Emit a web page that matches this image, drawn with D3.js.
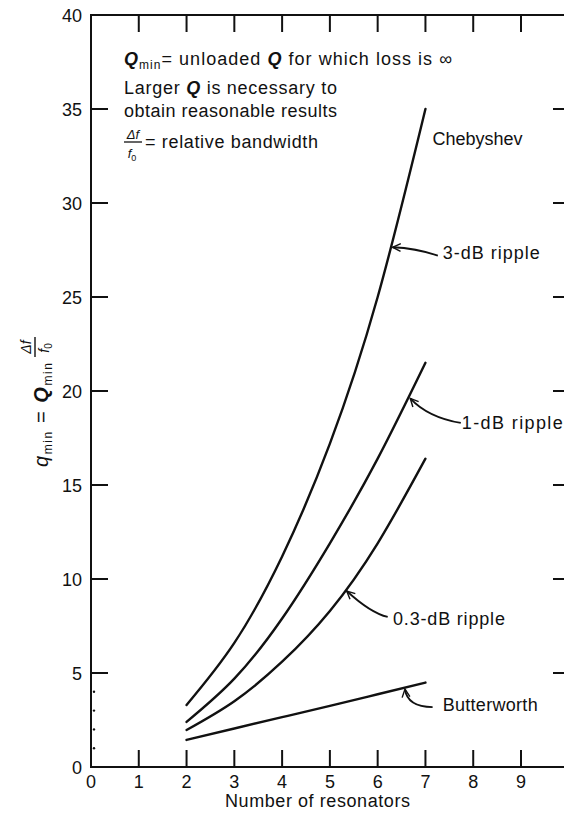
<!DOCTYPE html>
<html>
<head>
<meta charset="utf-8">
<script src="https://cdn.jsdelivr.net/npm/d3@7"></script>
<style>
  html, body { margin: 0; padding: 0; background: #fff; }
  svg { display: block; font-family: "Liberation Sans", Arial, Helvetica, sans-serif; }
</style>
</head>
<body>
<svg id="chart" width="564" height="817"></svg>
<script>
// ---------------- data ----------------
const resonators = [2, 3, 4, 5, 6, 7];
const ripple3dB   = [3.3, 6.6, 11.2, 17.2, 25.0, 35.0];
const ripple1dB   = [2.4, 4.7, 7.9, 11.9, 16.4, 21.5];
const ripple03dB  = [1.97, 3.5, 5.6, 8.3, 11.9, 16.4];
const butterworth = [1.44, 2.05, 2.65, 3.25, 3.87, 4.49];

const xTicks = [0, 1, 2, 3, 4, 5, 6, 7, 8, 9];
const yTicks = [0, 5, 10, 15, 20, 25, 30, 35, 40];
const yMinorTicks = [1, 2, 3, 4];
const xLabel = "Number of resonators";
const groupLabel = "Chebyshev";

// curve labels with arrow (positions in data units)
const seriesList = [
  { values: ripple3dB,   label: "3-dB ripple",   lx: 7.36, ly: 27.0, w: 97,  tip: 6.27, tail: [7.26, 27.2], ctrl: [6.8, 27.6] },
  { values: ripple1dB,   label: "1-dB ripple",   lx: 7.76, ly: 18.0, w: 101, tip: 6.64, tail: [7.74, 18.3], ctrl: [7.05, 18.6] },
  { values: ripple03dB,  label: "0.3-dB ripple", lx: 6.32, ly: 7.55, w: 112, tip: 5.31, tail: [6.21, 7.98], ctrl: [5.85, 8.2] },
  { values: butterworth, label: "Butterworth",   lx: 7.36, ly: 2.98, w: 95,  tip: 6.53, tail: [7.15, 3.19], ctrl: [6.62, 3.2] }
];

// ---------------- scales ----------------
const svg = d3.select("#chart");
const x = d3.scaleLinear().domain([0, 9]).range([91, 521]);
const y = d3.scaleLinear().domain([0, 40]).range([767, 15]);
const xRight = 564;
const ink = "#111";

// ---------------- frame ----------------
const frame = svg.append("g").attr("stroke", ink).attr("stroke-width", 2).attr("fill", "none");
frame.append("line").attr("x1", x(0)).attr("x2", x(0)).attr("y1", y(0) + 1).attr("y2", y(40) - 1);
frame.append("line").attr("x1", x(0) - 1).attr("x2", xRight).attr("y1", y(40)).attr("y2", y(40));
frame.append("line").attr("x1", x(0) - 1).attr("x2", xRight).attr("y1", y(0)).attr("y2", y(0));

const tickLen = 17;
xTicks.filter(d => d > 0).forEach(d => {
  frame.append("line").attr("x1", x(d)).attr("x2", x(d)).attr("y1", y(0)).attr("y2", y(0) - tickLen);
  frame.append("line").attr("x1", x(d)).attr("x2", x(d)).attr("y1", y(40)).attr("y2", y(40) + tickLen);
});
yTicks.filter(d => d > 0 && d < 40).forEach(d => {
  frame.append("line").attr("x1", x(0)).attr("x2", x(0) + tickLen).attr("y1", y(d)).attr("y2", y(d));
  frame.append("line").attr("x1", xRight - 11).attr("x2", xRight).attr("y1", y(d)).attr("y2", y(d));
});
yMinorTicks.forEach(d => {
  svg.append("circle").attr("cx", x(0) + 3).attr("cy", y(d)).attr("r", 1.2).attr("fill", ink);
});

// tick labels
const tickFont = 18;
svg.append("g").selectAll("text").data(xTicks).join("text")
  .attr("x", d => x(d)).attr("y", y(0) + 21)
  .attr("text-anchor", "middle").attr("font-size", tickFont).attr("fill", ink)
  .text(d => d);
svg.append("g").selectAll("text").data(yTicks).join("text")
  .attr("x", x(0) - 9)
  .attr("y", d => y(d) + 6.5)
  .attr("text-anchor", "end").attr("font-size", tickFont).attr("fill", ink)
  .text(d => d);

// x axis title
svg.append("text").attr("x", 225).attr("y", 807)
  .attr("font-size", 18).attr("fill", ink)
  .attr("textLength", 185).attr("lengthAdjust", "spacing").text(xLabel);

// y axis title (rotated)
const yt = svg.append("g").attr("transform", "translate(48,467) rotate(-90)");
const ytText = yt.append("text").attr("font-size", 20).attr("fill", ink)
  .attr("textLength", 104).attr("lengthAdjust", "spacing");
ytText.append("tspan").attr("font-style", "italic").text("q");
ytText.append("tspan").attr("font-size", 12).attr("dy", 4).text("min");
ytText.append("tspan").attr("dy", -4).text(" = ");
ytText.append("tspan").attr("font-style", "italic").attr("font-weight", "bold").text("Q");
ytText.append("tspan").attr("font-size", 12).attr("dy", 4).text("min");
const fx = 120;
yt.append("text").attr("x", fx).attr("y", -17).attr("text-anchor", "middle")
  .attr("font-size", 14).attr("font-style", "italic").attr("fill", ink).text("Δf");
yt.append("line").attr("x1", fx - 10).attr("x2", fx + 10).attr("y1", -13).attr("y2", -13)
  .attr("stroke", ink).attr("stroke-width", 1.4);
const f0 = yt.append("text").attr("x", fx - 1).attr("y", 1).attr("text-anchor", "middle")
  .attr("font-size", 14).attr("fill", ink);
f0.append("tspan").attr("font-style", "italic").text("f");
f0.append("tspan").attr("font-size", 10).attr("dy", 3).text("0");

// ---------------- notes (top-left) ----------------
const noteFont = 18;
const n1 = svg.append("text").attr("x", 124).attr("y", 65).attr("font-size", noteFont).attr("fill", ink)
  .attr("textLength", 328).attr("lengthAdjust", "spacing");
n1.append("tspan").attr("font-style", "italic").attr("font-weight", "bold").text("Q");
n1.append("tspan").attr("font-size", 12).attr("dy", 4).text("min");
n1.append("tspan").attr("dy", -4).text("= unloaded ");
n1.append("tspan").attr("font-style", "italic").attr("font-weight", "bold").text("Q");
n1.append("tspan").text(" for which loss is ∞");

const n2 = svg.append("text").attr("x", 124).attr("y", 94).attr("font-size", noteFont).attr("fill", ink)
  .attr("textLength", 213).attr("lengthAdjust", "spacing");
n2.append("tspan").text("Larger ");
n2.append("tspan").attr("font-style", "italic").attr("font-weight", "bold").text("Q");
n2.append("tspan").text(" is necessary to");
svg.append("text").attr("x", 124).attr("y", 117).attr("font-size", noteFont).attr("fill", ink)
  .attr("textLength", 213).attr("lengthAdjust", "spacing")
  .text("obtain reasonable results");

svg.append("text").attr("x", 133).attr("y", 139).attr("text-anchor", "middle")
  .attr("font-size", 13).attr("font-style", "italic").attr("fill", ink).text("Δf");
svg.append("line").attr("x1", 124).attr("x2", 142).attr("y1", 142).attr("y2", 142)
  .attr("stroke", ink).attr("stroke-width", 1.3);
const nf0 = svg.append("text").attr("x", 132).attr("y", 158).attr("text-anchor", "middle")
  .attr("font-size", 13).attr("fill", ink);
nf0.append("tspan").attr("font-style", "italic").text("f");
nf0.append("tspan").attr("font-size", 9).attr("dy", 3).text("0");
svg.append("text").attr("x", 145).attr("y", 148).attr("font-size", noteFont).attr("fill", ink)
  .attr("textLength", 173).attr("lengthAdjust", "spacing")
  .text("= relative bandwidth");

// ---------------- curves ----------------
const line = d3.line()
  .x(d => x(d[0])).y(d => y(d[1]))
  .curve(d3.curveNatural);

const curveG = svg.append("g").attr("fill", "none").attr("stroke", ink).attr("stroke-width", 2.4)
  .attr("stroke-linecap", "round");
seriesList.forEach(s => {
  const pts = resonators.map((n, i) => [n, s.values[i]]);
  curveG.append("path").attr("d", line(pts));
});

function valueAt(vals, n) {
  const i = Math.max(0, Math.min(resonators.length - 2, Math.floor(n) - resonators[0]));
  const t = n - resonators[i];
  return vals[i] + (vals[i + 1] - vals[i]) * t;
}

// ---------------- labels & arrows ----------------
svg.append("text").attr("x", x(7.15)).attr("y", y(33.1)).attr("font-size", 18).attr("fill", ink)
  .attr("textLength", 90).attr("lengthAdjust", "spacing").text(groupLabel);

seriesList.forEach(s => {
  svg.append("text").attr("x", x(s.lx)).attr("y", y(s.ly)).attr("font-size", 18).attr("fill", ink)
    .attr("textLength", s.w).attr("lengthAdjust", "spacing")
    .text(s.label);
  const tx = x(s.tip) + 2, ty = y(valueAt(s.values, s.tip)) + 1;
  const ax = x(s.tail[0]), ay = y(s.tail[1]);
  const cx = x(s.ctrl[0]), cy = y(s.ctrl[1]);
  svg.append("path")
    .attr("d", `M${ax},${ay} Q${cx},${cy} ${tx},${ty}`)
    .attr("fill", "none").attr("stroke", ink).attr("stroke-width", 1.8);
  const ang = Math.atan2(ty - cy, tx - cx);
  const L = 9, W = 0.45;
  svg.append("path")
    .attr("d", `M${tx - L * Math.cos(ang - W)},${ty - L * Math.sin(ang - W)} L${tx},${ty} L${tx - L * Math.cos(ang + W)},${ty - L * Math.sin(ang + W)}`)
    .attr("fill", "none").attr("stroke", ink).attr("stroke-width", 1.4);
});
</script>
</body>
</html>
